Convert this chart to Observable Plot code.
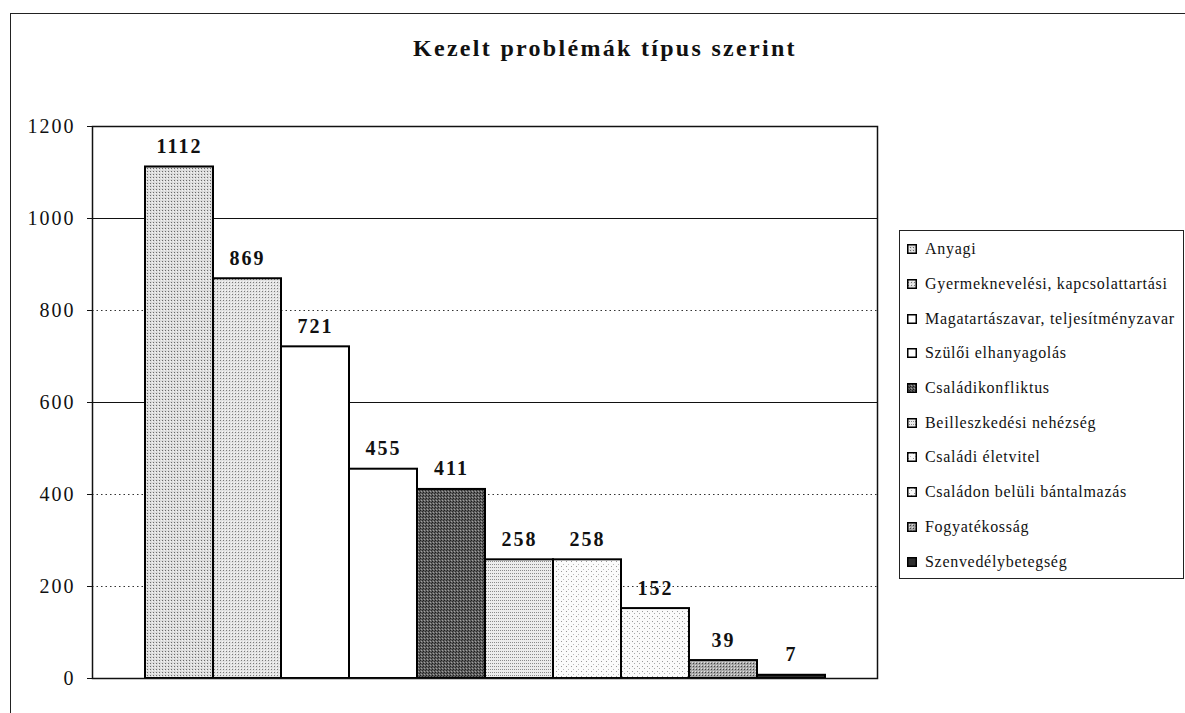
<!DOCTYPE html>
<html>
<head>
<meta charset="utf-8">
<script src="https://cdn.jsdelivr.net/npm/d3@7"></script>
<script src="https://cdn.jsdelivr.net/npm/@observablehq/plot@0.6"></script>
<style>
  body { margin: 0; background: #fff; font-family: "Liberation Serif", "DejaVu Serif", serif; color: #111; }
  #wrap { position: relative; width: 1185px; height: 713px; overflow: hidden; background: #fff; }
  #frame { position: absolute; left: 10px; top: 13px; width: 1200px; height: 720px; border-left: 1.5px solid #222; border-top: 1.5px solid #222; box-sizing: border-box; }
  #chart { position: absolute; left: 0; top: 0; }
  #title { position: absolute; left: 413px; top: 35px; font-weight: bold; font-size: 24px; letter-spacing: 2.3px; white-space: nowrap; }
  #legend { position: absolute; left: 899px; top: 230px; width: 285px; height: 349px; border: 1.5px solid #222; box-sizing: border-box; padding-top: 1px; }
  .item { height: 34.7px; display: flex; align-items: center; font-size: 16px; letter-spacing: 0.7px; white-space: nowrap; }
  .sw { width: 10px; height: 10px; margin-left: 7px; margin-right: 8px; flex: none; }
  g[aria-label="text"] text { letter-spacing: 2px; }
  g[aria-label="y-axis tick label"] text { letter-spacing: 2px; }
</style>
</head>
<body>
<svg width="0" height="0" style="position:absolute">
  <defs>
    <pattern id="p0" width="3" height="3" patternUnits="userSpaceOnUse">
      <rect width="3" height="3" fill="#dcdcdc"/><rect x="0" y="0" width="1" height="1" fill="#6a6a6a"/><rect x="2" y="1" width="1" height="1" fill="#f4f4f4"/>
    </pattern>
    <pattern id="p1" width="3" height="3" patternUnits="userSpaceOnUse">
      <rect width="3" height="3" fill="#e2e2e2"/><rect x="1" y="0" width="1" height="1" fill="#7a7a7a"/><rect x="0" y="2" width="1" height="1" fill="#f6f6f6"/>
    </pattern>
    <pattern id="p2" width="3" height="3" patternUnits="userSpaceOnUse">
      <rect width="3" height="3" fill="#ffffff"/>
    </pattern>
    <pattern id="p3" width="3" height="3" patternUnits="userSpaceOnUse">
      <rect width="3" height="3" fill="#ffffff"/>
    </pattern>
    <pattern id="p4" width="3" height="3" patternUnits="userSpaceOnUse">
      <rect width="3" height="3" fill="#5e5e5e"/><rect x="0" y="0" width="1" height="1" fill="#1e1e1e"/><rect x="2" y="1" width="1" height="1" fill="#2a2a2a"/><rect x="1" y="2" width="1" height="1" fill="#a0a0a0"/>
    </pattern>
    <pattern id="p5" width="2" height="3" patternUnits="userSpaceOnUse">
      <rect width="2" height="3" fill="#ececec"/><rect x="0" y="0" width="1" height="1" fill="#8a8a8a"/>
    </pattern>
    <pattern id="p6" width="5" height="5" patternUnits="userSpaceOnUse">
      <rect width="5" height="5" fill="#fbfbfb"/><rect x="1" y="1" width="1" height="1" fill="#999"/><rect x="3" y="4" width="1" height="1" fill="#bbb"/>
    </pattern>
    <pattern id="p7" width="5" height="5" patternUnits="userSpaceOnUse">
      <rect width="5" height="5" fill="#fafafa"/><rect x="2" y="1" width="1" height="1" fill="#999"/><rect x="4" y="3" width="1" height="1" fill="#aaa"/>
    </pattern>
    <pattern id="p8" width="3" height="3" patternUnits="userSpaceOnUse">
      <rect width="3" height="3" fill="#a8a8a8"/><rect x="0" y="0" width="1" height="1" fill="#444"/><rect x="2" y="2" width="1" height="1" fill="#e0e0e0"/>
    </pattern>
    <pattern id="p9" width="3" height="3" patternUnits="userSpaceOnUse">
      <rect width="3" height="3" fill="#2e2e2e"/>
    </pattern>
  </defs>
</svg>
<div id="wrap">
  <div id="frame"></div>
  <div id="chart"></div>
  <div id="title">Kezelt problémák típus szerint</div>
  <div id="legend"></div>
</div>
<script>
const categories = [
  "Anyagi",
  "Gyermeknevelési, kapcsolattartási",
  "Magatartászavar, teljesítményzavar",
  "Szülői elhanyagolás",
  "Családikonfliktus",
  "Beilleszkedési nehézség",
  "Családi életvitel",
  "Családon belüli bántalmazás",
  "Fogyatékosság",
  "Szenvedélybetegség"
];
const values = [1112, 869, 721, 455, 411, 258, 258, 152, 39, 7];
const yTicks = [0, 200, 400, 600, 800, 1000, 1200];
const solidGrid = [600, 1000];
const dottedGrid = [200, 400, 800];
const fills = ["url(#p0)", "url(#p1)", "url(#p2)", "url(#p3)", "url(#p4)", "url(#p5)", "url(#p6)", "url(#p7)", "url(#p8)", "url(#p9)"];

const data = categories.map((c, i) => ({cat: c, value: values[i]}));

const chart = Plot.plot({
  width: 1185,
  height: 713,
  marginLeft: 92,
  marginRight: 308,
  marginTop: 126,
  marginBottom: 35,
  style: {fontFamily: "'Liberation Serif', serif", background: "transparent", color: "#111"},
  x: {domain: categories, paddingInner: 0, paddingOuter: 0.755, axis: null},
  y: {domain: [0, 1200], ticks: yTicks, label: null},
  color: {domain: categories, range: fills},
  marks: [
    Plot.ruleY(dottedGrid, {stroke: "#333", strokeWidth: 1, strokeDasharray: "1.5,3"}),
    Plot.ruleY(solidGrid, {stroke: "#111", strokeWidth: 1.2}),
    Plot.barY(data, {x: "cat", y: "value", fill: "cat", stroke: "#000", strokeWidth: 2}),
    Plot.text(data, {x: "cat", y: "value", text: d => String(d.value), dy: -14, lineAnchor: "bottom", fontWeight: "bold", fontSize: 20, fill: "#111"}),
    Plot.frame({stroke: "#111", strokeWidth: 1.5}),
    Plot.axisY({ticks: yTicks, tickSize: 5, tickPadding: 12, fontSize: 20, label: null, tickFormat: d => String(d)})
  ]
});
document.getElementById("chart").appendChild(chart);

const legend = document.getElementById("legend");
categories.forEach((c, i) => {
  const item = document.createElement("div");
  item.className = "item";
  item.innerHTML = `<svg class="sw" width="10" height="10"><rect x="0.75" y="0.75" width="8.5" height="8.5" fill="${fills[i]}" stroke="#000" stroke-width="1.5"/></svg><span>${c}</span>`;
  legend.appendChild(item);
});
</script>
</body>
</html>
